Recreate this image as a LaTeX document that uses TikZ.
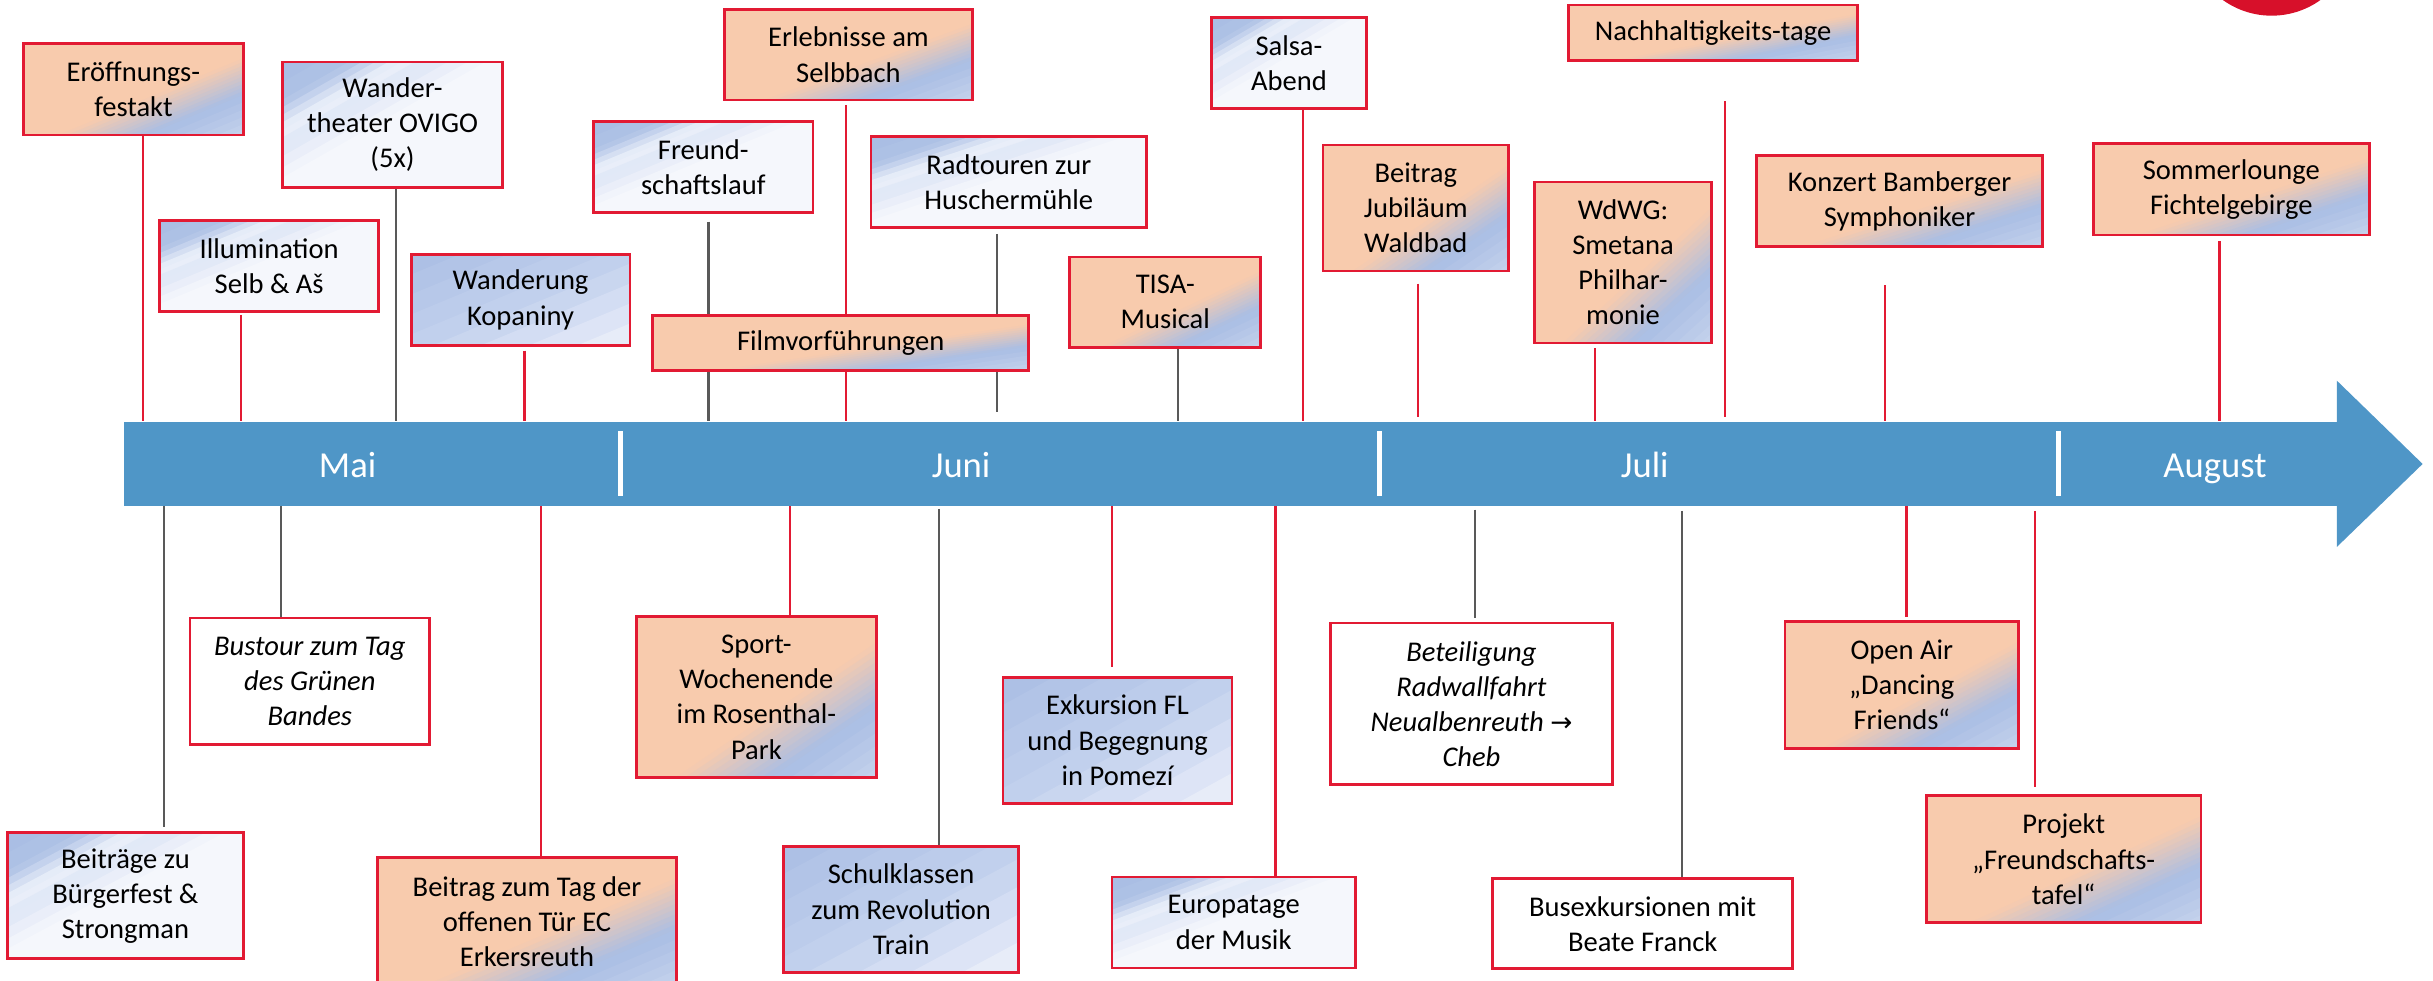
\documentclass[tikz,border=0pt]{standalone}
\usepackage{fontspec}
\setmainfont{Carlito}
\newfontfamily\arrowfont{DejaVu Sans}
\usetikzlibrary{fit,calc}
\definecolor{bred}{RGB}{226,26,51}
\definecolor{lgray}{RGB}{89,89,89}
\definecolor{barblue}{RGB}{79,150,199}
\definecolor{logored}{RGB}{215,16,42}
\definecolor{peach}{RGB}{248,203,173}
\definecolor{gblue}{RGB}{170,190,228}
\definecolor{glight}{RGB}{196,210,236}
\definecolor{ws}{RGB}{236,241,250}
\definecolor{wm}{RGB}{222,230,246}
\definecolor{ww}{RGB}{245,247,252}
\definecolor{bm}{RGB}{196,210,238}
\definecolor{bl}{RGB}{236,240,250}
% diagonal colour bands: t = 0 at the top left corner, t = 1 at the bottom right corner
\def\olist{-0.05/0.585/peach, 0.58/0.605/gblue!5!peach, 0.60/0.625/gblue!15!peach, 0.62/0.645/gblue!25!peach, 0.64/0.665/gblue!35!peach, 0.66/0.685/gblue!45!peach, 0.68/0.705/gblue!55!peach, 0.70/0.725/gblue!65!peach, 0.72/0.745/gblue!75!peach, 0.74/0.765/gblue!85!peach, 0.76/0.785/gblue!95!peach, 0.78/0.825/glight!9!gblue, 0.82/0.865/glight!27!gblue, 0.86/0.905/glight!45!gblue, 0.90/0.945/glight!64!gblue, 0.94/0.975/glight!84!gblue, 0.97/1.05/glight}
\def\wlist{-0.05/0.085/gblue, 0.08/0.155/ws!5!gblue, 0.15/0.185/ws!15!gblue, 0.18/0.215/ws!40!gblue, 0.21/0.245/ws!65!gblue, 0.24/0.275/ws!90!gblue, 0.27/0.305/wm!25!ws, 0.30/0.335/wm!75!ws, 0.33/0.38/ww!17!wm, 0.375/0.425/ww!50!wm, 0.42/0.465/ww!83!wm, 0.46/1.05/ww}
\def\blist{-0.05/0.115/bm!10!gblue, 0.11/0.225/bm!30!gblue, 0.22/0.335/bm!50!gblue, 0.33/0.445/bm!70!gblue, 0.44/0.555/bm!90!gblue, 0.55/0.67/bl!12!bm, 0.66/0.78/bl!37!bm, 0.77/0.89/bl!62!bm, 0.88/1.05/bl!87!bm}
\newcommand\gband[3]{\fill[#3] ($ {1-2*#1}*(pa) + {2*#1+1}*(pb) - 1*(pc) $) -- ($ {1-2*#2}*(pa) + {2*#2+1}*(pb) - 1*(pc) $) -- ($ {1-2*#2}*(pa) + {2*#2-2}*(pb) + 2*(pc) $) -- ($ {1-2*#1}*(pa) + {2*#1-2}*(pb) + 2*(pc) $) -- cycle;}
\pgfdeclarelayer{bg}
\pgfsetlayers{bg,main}
\tikzset{
 cor/.style n args={4}{at={({(#1+#3)/2},{(#2+#4)/2})}, minimum width={(#3-#1)*0.5pt}, minimum height={(#4-#2)*0.5pt}},
 gradpic/.style={path picture={
   \coordinate (pa) at (path picture bounding box.north west);
   \coordinate (pb) at (path picture bounding box.north east);
   \coordinate (pc) at (path picture bounding box.south west);
   \foreach \ga/\gb/\gc in #1 {\gband{\ga}{\gb}{\gc}}
 }},
 ebox/.style={draw=bred, line width=0.9pt, inner sep=0pt, align=center, font=\fontsize{9.2}{11.3}\selectfont},
 eobox/.style={ebox, gradpic=\olist},
 ewbox/.style={ebox, gradpic=\wlist},
 ebbox/.style={ebox, gradpic=\blist},
 epbox/.style={ebox, fill=white},
 ital/.style={font=\fontsize{9.2}{11.3}\selectfont\itshape},
 rl/.style={draw=bred, line width=0.7pt},
 gl/.style={draw=lgray, line width=0.75pt},
 month/.style={text=white, font=\fontsize{11.8}{14}\selectfont, anchor=base, inner sep=0pt},
 sepline/.style={draw=white, line width=1.7pt}
}
\begin{document}
\begin{tikzpicture}[x=0.5pt,y=-0.5pt]
\useasboundingbox (0,0) rectangle (1568,632);
\clip (0,0) rectangle (1568,632);
\fill[logored] (1464,-43.9) circle[radius=27pt];
% timeline bar
\node[fill=barblue, inner sep=0pt, fit={(80,272) (1507,326)}] (bar) {};
\fill[barblue] (1506,245.3) -- (1561.3,299) -- (1506,352.5) -- cycle;
\draw[sepline] (400,278) -- (400,319.4);
\draw[sepline] (889,278) -- (889,319.4);
\draw[sepline] (1326.7,278) -- (1326.7,319.4);
\node[month] (mai) at (224,308) {Mai};
\node[month] (juni) at (619.4,308) {Juni};
\node[month] (juli) at (1060,308) {Juli};
\node[month] (aug) at (1427.5,308) {August};
% top boxes
\node[eobox, cor={15}{28}{157}{87}] (erof) {Eröffnungs-\\festakt};
\node[ewbox, cor={182}{40}{324}{121}] (wander) {Wander-\\theater OVIGO\\(5x)};
\node[ewbox, cor={103}{142}{244}{200.5}] (illum) {Illumination\\Selb \& Aš};
\node[ebbox, cor={265}{164}{406}{222.5}] (kopan) {Wanderung\\Kopaniny};
\node[ewbox, cor={382.5}{78.4}{524}{137}] (freund) {Freund-\\schaftslauf};
\node[eobox, cor={420.6}{203.4}{663}{239}] (film) {Filmvorführungen};
\node[eobox, cor={466.8}{6}{626.8}{64.5}] (erleb) {Erlebnisse am\\Selbbach};
\node[ewbox, cor={561.3}{88}{739}{146.7}] (radt) {Radtouren zur\\Huschermühle};
\node[eobox, cor={689.5}{165.6}{812.5}{224}] (tisa) {TISA-\\Musical};
\node[ewbox, cor={780.8}{11.4}{880.6}{69.8}] (salsa) {Salsa-\\Abend};
\node[eobox, cor={852.6}{93.4}{972.3}{174.7}] (jubil) {Beitrag\\Jubiläum\\Waldbad};
\node[eobox, cor={989}{117.3}{1103}{221}] (wdwg) {WdWG:\\Smetana\\Philhar-\\monie};
\node[eobox, cor={1011}{3.2}{1197}{39}] (nach) {Nachhaltigkeits-tage};
\node[eobox, cor={1132}{100}{1316.4}{159}] (konz) {Konzert Bamberger\\Symphoniker};
\node[eobox, cor={1349}{92.4}{1527}{151.5}] (somm) {Sommerlounge\\Fichtelgebirge};
% bottom boxes
\node[ewbox, cor={5}{536.6}{156.7}{617.9}] (beitr) {Beiträge zu\\Bürgerfest \&\\Strongman};
\node[epbox, ital, cor={122.4}{398.3}{277}{479.8}] (bust) {Bustour zum Tag\\des Grünen\\Bandes};
\node[eobox, cor={243.2}{552.6}{436.1}{635}] (tagder) {Beitrag zum Tag der\\offenen Tür EC\\Erkersreuth};
\node[eobox, cor={410.2}{397.4}{564.8}{501.3}] (sport) {Sport-\\Wochenende\\im Rosenthal-\\Park};
\node[ebbox, cor={505}{545.3}{656.5}{626.6}] (schul) {Schulklassen\\zum Revolution\\Train};
\node[ebbox, cor={646.4}{436.4}{794}{517.7}] (exk) {Exkursion FL\\und Begegnung\\in Pomezí};
\node[ewbox, cor={716.6}{565.2}{873.5}{623.8}] (europ) {Europatage\\der Musik};
\node[epbox, ital, cor={857.6}{401.5}{1039}{505.7}] (beteil) {Beteiligung\\Radwallfahrt\\Neualbenreuth {\upshape\arrowfont\fontsize{8.5}{10}\selectfont →}\\Cheb};
\node[epbox, cor={962}{566.3}{1155.3}{624.4}] (busex) {Busexkursionen mit\\Beate Franck};
\node[eobox, cor={1150.3}{400.5}{1301}{482.2}] (open) {Open Air\\„Dancing\\Friends“};
\node[eobox, cor={1241.4}{512.9}{1418.5}{594.6}] (proj) {Projekt\\„Freundschafts-\\tafel“};
% connector positions
\coordinate (k1) at (92,0);
\coordinate (k2) at (255,0);
\coordinate (k3) at (155.5,0);
\coordinate (k4) at (338,0);
\coordinate (k5) at (456.7,0);
\coordinate (k6) at (545,0);
\coordinate (k7) at (642.5,0);
\coordinate (k8) at (759,0);
\coordinate (k9) at (839.7,0);
\coordinate (k10) at (914,0);
\coordinate (k11) at (1028,0);
\coordinate (k12) at (1111.6,0);
\coordinate (k13) at (1215,0);
\coordinate (k14) at (1430.4,0);
\coordinate (k15) at (105.5,0);
\coordinate (k16) at (181.3,0);
\coordinate (k17) at (348.9,0);
\coordinate (k18) at (509,0);
\coordinate (k19) at (605,0);
\coordinate (k20) at (716.4,0);
\coordinate (k21) at (822,0);
\coordinate (k22) at (950.4,0);
\coordinate (k23) at (1083.9,0);
\coordinate (k24) at (1228.7,0);
\coordinate (k25) at (1311.6,0);
\begin{pgfonlayer}{bg}
\draw[rl] (k1 |- erof.south) -- (k1 |- bar.north);
\draw[gl] (k2 |- wander.south) -- (k2 |- bar.north);
\draw[rl, shorten <=0.75pt] (k3 |- illum.south) -- (k3 |- bar.north);
\draw[rl, shorten <=1.25pt] (k4 |- kopan.south) -- (k4 |- bar.north);
\draw[gl, shorten <=2.5pt] (k5 |- freund.south) -- (k5 |- bar.north);
\draw[rl, shorten <=1.25pt] (k6 |- erleb.south) -- (k6 |- bar.north);
\draw[gl, shorten <=1.6pt, shorten >=3pt] (k7 |- radt.south) -- (k7 |- bar.north);
\draw[gl] (k8 |- tisa.south) -- (k8 |- bar.north);
\draw[rl] (k9 |- salsa.south) -- (k9 |- bar.north);
\draw[rl, shorten <=3.6pt, shorten >=1.5pt] (k10 |- jubil.south) -- (k10 |- bar.north);
\draw[rl, shorten <=1.2pt] (k11 |- wdwg.south) -- (k11 |- bar.north);
\draw[rl, shorten <=12.7pt, shorten >=1.5pt] (k12 |- nach.south) -- (k12 |- bar.north);
\draw[rl, shorten <=12pt] (k13 |- konz.south) -- (k13 |- bar.north);
\draw[rl, shorten <=1.6pt] (k14 |- somm.south) -- (k14 |- bar.north);
\draw[gl, shorten >=1.5pt] (k15 |- bar.south) -- (k15 |- beitr.north);
\draw[gl] (k16 |- bar.south) -- (k16 |- bust.north);
\draw[rl] (k17 |- bar.south) -- (k17 |- tagder.north);
\draw[rl] (k18 |- bar.south) -- (k18 |- sport.north);
\draw[gl, shorten <=0.8pt] (k19 |- bar.south) -- (k19 |- schul.north);
\draw[rl, shorten >=2.7pt] (k20 |- bar.south) -- (k20 |- exk.north);
\draw[rl] (k21 |- bar.south) -- (k21 |- europ.north);
\draw[gl, shorten <=1pt, shorten >=1.25pt] (k22 |- bar.south) -- (k22 |- beteil.north);
\draw[gl, shorten <=1.4pt] (k23 |- bar.south) -- (k23 |- busex.north);
\draw[rl, shorten >=1pt] (k24 |- bar.south) -- (k24 |- open.north);
\draw[rl, shorten <=1.4pt, shorten >=2.5pt] (k25 |- bar.south) -- (k25 |- proj.north);
\end{pgfonlayer}
\end{tikzpicture}
\end{document}
